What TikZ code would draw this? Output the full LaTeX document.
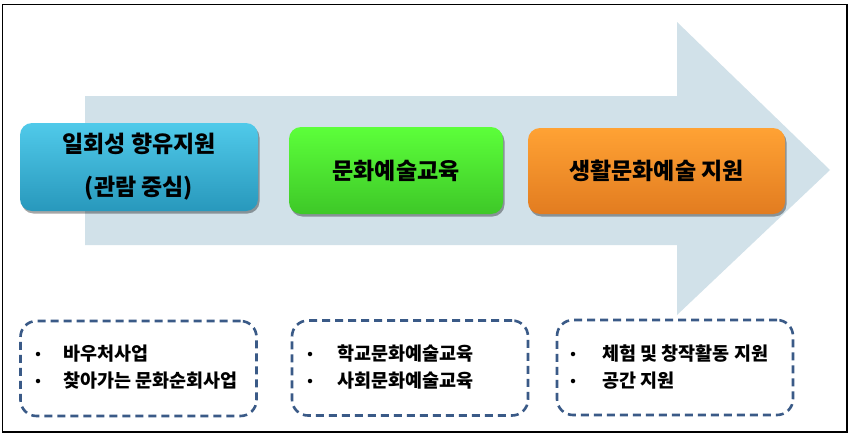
\documentclass[tikz,border=0pt]{standalone}
\usepackage{fontspec}
\newfontfamily\kr{Noto Sans CJK KR}
\usetikzlibrary{shadows}
\definecolor{arrowfill}{RGB}{209,225,233}
\definecolor{dashcol}{RGB}{58,90,135}
\tikzset{
  stagebox/.style={rounded corners=12pt, minimum height=88pt, inner sep=0pt,
    font=\kr\bfseries\fontsize{23}{43}\selectfont, align=center,
    drop shadow={shadow xshift=1.5pt, shadow yshift=-2.5pt, opacity=0.35, fill=black}},
  listbox/.style={draw=dashcol, line width=2.6pt, dash pattern=on 8pt off 5pt,
    rounded corners=16pt, minimum width=236pt, minimum height=95pt, inner sep=0pt},
  itemtext/.style={anchor=west, font=\kr\bfseries\fontsize{18.5}{22}\selectfont, inner sep=0pt},
  bullet/.style={circle, fill=black, inner sep=0pt, minimum size=4.5pt}
}
\begin{document}
\begin{tikzpicture}[x=1pt,y=-1pt]
\useasboundingbox (0,0) rectangle (857,442);
\fill[white] (0,0) rectangle (857,442);
\draw[line width=1.4pt] (2.5,4.5) rectangle (847,432);
% big arrow
\fill[arrowfill] (85,96) -- (677,96) -- (677,22) -- (830,170) -- (677,315) -- (677,245) -- (85,245) -- cycle;
% stage boxes
\node[stagebox, minimum width=238pt, top color={rgb,255:red,80;green,202;blue,234}, bottom color={rgb,255:red,40;green,152;blue,188}] (s1) at (139,167) {일회성 향유지원\\(관람 중심)};
\node[stagebox, minimum width=214pt, minimum height=87pt, top color={rgb,255:red,92;green,255;blue,58}, bottom color={rgb,255:red,62;green,200;blue,40}] (s2) at (396,170.5) {문화예술교육};
\node[stagebox, minimum width=257pt, minimum height=86pt, top color={rgb,255:red,255;green,162;blue,52}, bottom color={rgb,255:red,226;green,124;blue,32}] (s3) at (656.5,171) {생활문화예술 지원};
% list boxes
\node[listbox] (l1) at (138.5,368.5) {};
\node[listbox] (l2) at (410,368) {};
\node[listbox] (l3) at (675,367.5) {};
% items
\node[bullet] (b11) at (38,354) {};
\node[itemtext] (t11) at (63,354) {바우처사업};
\node[bullet] (b12) at (38,381) {};
\node[itemtext] (t12) at (63,381) {찾아가는 문화순회사업};
\node[bullet] (b21) at (310,354) {};
\node[itemtext] (t21) at (337,354) {학교문화예술교육};
\node[bullet] (b22) at (310,381) {};
\node[itemtext] (t22) at (337,381) {사회문화예술교육};
\node[bullet] (b31) at (573,354) {};
\node[itemtext] (t31) at (602,354) {체험 및 창작활동 지원};
\node[bullet] (b32) at (573,381) {};
\node[itemtext] (t32) at (602,381) {공간 지원};
\end{tikzpicture}
\end{document}
